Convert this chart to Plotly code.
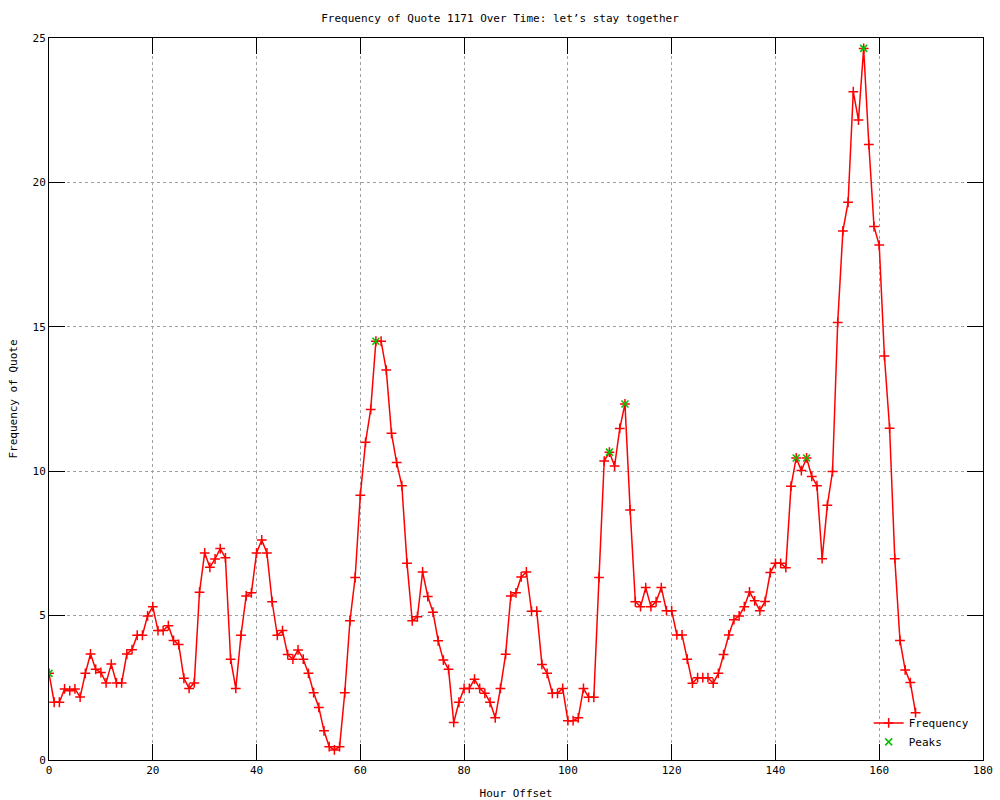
import plotly.graph_objects as go

hours = list(range(168))
frequency = [
    3.0, 2.0, 2.0, 2.46, 2.4, 2.46, 2.18, 3.0, 3.67, 3.14,
    3.03, 2.67, 3.32, 2.67, 2.67, 3.67, 3.82, 4.32, 4.32, 4.99,
    5.31, 4.48, 4.48, 4.65, 4.14, 4.0, 2.83, 2.48, 2.67, 5.81,
    7.17, 6.67, 6.96, 7.32, 7.0, 3.49, 2.48, 4.32, 5.68, 5.79,
    7.17, 7.62, 7.17, 5.48, 4.32, 4.48, 3.65, 3.49, 3.81, 3.49,
    3.0, 2.33, 1.82, 1.01, 0.46, 0.35, 0.46, 2.33, 4.82, 6.32,
    9.17, 11.0, 12.14, 14.5, 14.5, 13.5, 11.31, 10.3, 9.5, 6.81,
    4.82, 4.96, 6.51, 5.66, 5.12, 4.13, 3.46, 3.14, 1.3, 2.0,
    2.48, 2.48, 2.8, 2.48, 2.31, 2.0, 1.46, 2.48, 3.66, 5.68,
    5.79, 6.34, 6.51, 5.15, 5.15, 3.31, 3.0, 2.31, 2.31, 2.48,
    1.36, 1.36, 1.46, 2.48, 2.17, 2.17, 6.32, 10.35, 10.66, 10.18,
    11.48, 12.33, 8.66, 5.48, 5.31, 5.97, 5.31, 5.48, 5.97, 5.17,
    5.17, 4.33, 4.33, 3.49, 2.66, 2.85, 2.85, 2.85, 2.66, 3.0,
    3.65, 4.33, 4.86, 4.99, 5.31, 5.82, 5.51, 5.17, 5.49, 6.49,
    6.81, 6.81, 6.66, 9.48, 10.46, 10.02, 10.46, 9.82, 9.5, 6.97,
    8.82, 9.99, 15.15, 18.32, 19.31, 23.14, 22.16, 24.64, 21.31, 18.47,
    17.83, 13.99, 11.49, 6.97, 4.14, 3.12, 2.68, 1.64,
]
peak_hours = [0, 63, 108, 111, 144, 146, 157]
peak_values = [frequency[h] for h in peak_hours]

x_ticks = list(range(0, 181, 20))
y_ticks = list(range(0, 26, 5))

FONT = "DejaVu Sans Mono"

fig = go.Figure()
fig.add_trace(go.Scatter(
    x=hours, y=frequency, mode="lines+markers", name="Frequency",
    line=dict(color="#ff0000", width=1.5),
    marker=dict(symbol="cross-thin", size=7, line=dict(color="#ff0000", width=1.5)),
))
fig.add_trace(go.Scatter(
    x=peak_hours, y=peak_values, mode="markers", name="Peaks",
    marker=dict(symbol="x-thin", size=7, line=dict(color="#00c000", width=1.5)),
))

axis_common = dict(
    showline=True, linecolor="black", linewidth=1, mirror="ticks",
    ticks="inside", ticklen=16, tickcolor="black", tickwidth=1,
    showgrid=True, gridcolor="#a0a0a0", griddash="dot", gridwidth=1,
    zeroline=False, automargin=False,
    tickfont=dict(family=FONT, size=11, color="black"),
)

fig.update_layout(
    width=1000, height=800,
    paper_bgcolor="white", plot_bgcolor="white",
    margin=dict(l=49, r=17, t=38, b=40, autoexpand=False),
    title=dict(text="Frequency of Quote 1171 Over Time: let\u2019s stay together",
               x=0.5, xanchor="center", y=0.977, yanchor="middle",
               font=dict(family=FONT, size=11, color="black")),
    xaxis=dict(range=[0, 180], tickvals=x_ticks,
               title=dict(text="Hour Offset", font=dict(family=FONT, size=11, color="black"), standoff=13),
               **axis_common),
    yaxis=dict(range=[0, 25], tickvals=y_ticks,
               title=dict(text="Frequency of Quote", font=dict(family=FONT, size=11, color="black"), standoff=12),
               **axis_common),
    legend=dict(x=0.99, y=0.005, xanchor="right", yanchor="bottom",
                bgcolor="rgba(0,0,0,0)", font=dict(family=FONT, size=11, color="black"),
                traceorder="normal"),
    showlegend=True,
)

fig.write_html("out.html",
               config={"displayModeBar": False},
               post_script="document.body.style.margin='0';document.body.style.overflow='hidden';")
